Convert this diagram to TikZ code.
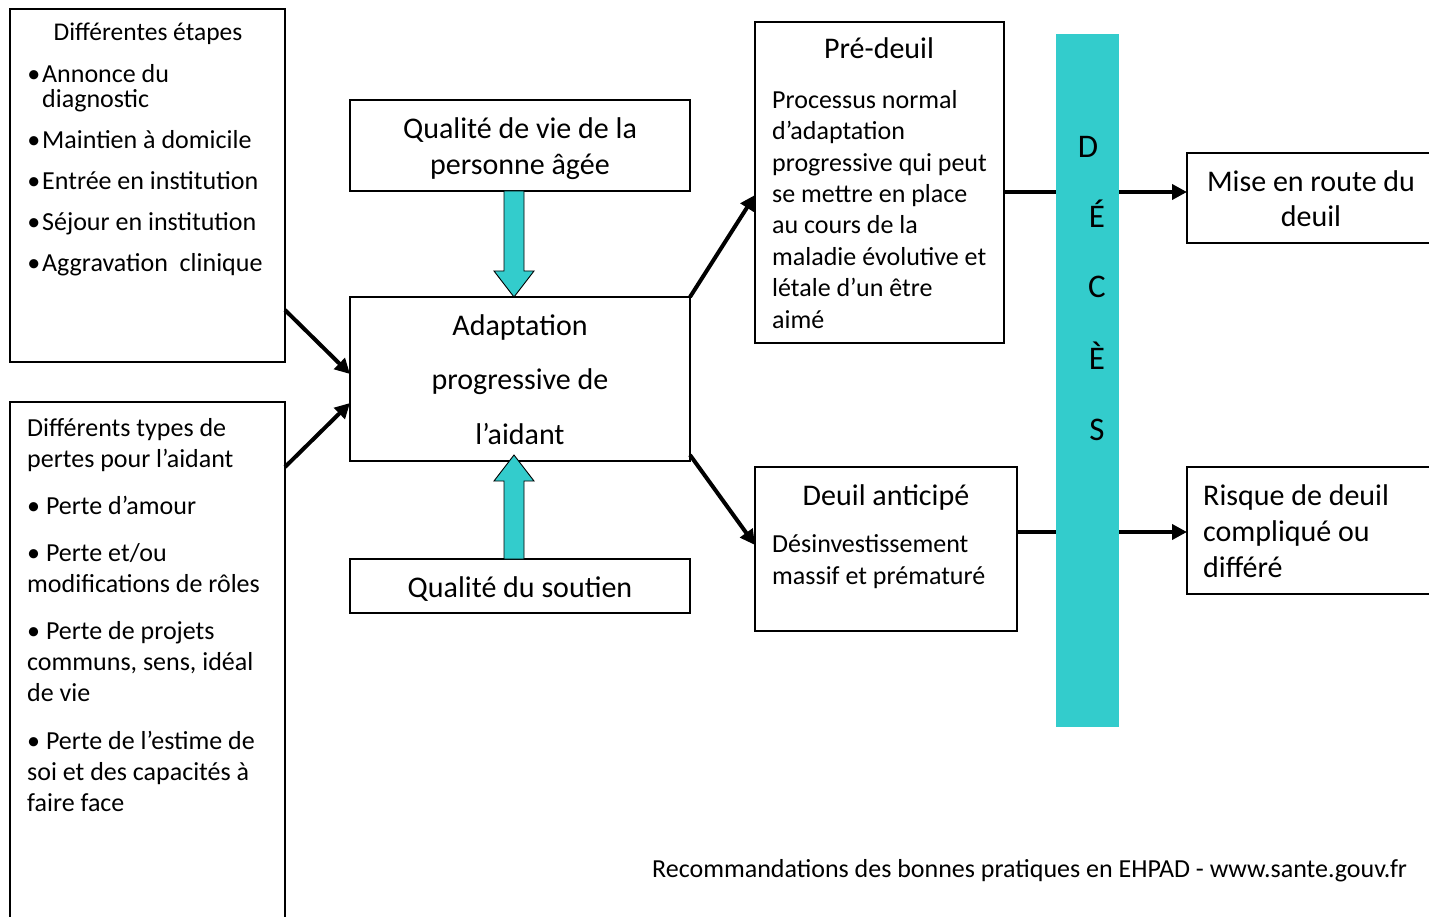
\documentclass[tikz,border=0pt]{standalone}
\usepackage{fontspec}
\setmainfont{Carlito}
\usetikzlibrary{arrows.meta}
\definecolor{teal33}{RGB}{51,204,204}
\begin{document}
\begin{tikzpicture}[x=1pt,y=-1pt,
  box/.style={draw=black, line width=1.4pt, inner sep=0pt, outer sep=0pt, anchor=north west},
  small/.style={inner sep=0pt, anchor=base west, align=left, font=\fontsize{26}{31.2}\selectfont},
  big/.style={inner sep=0pt, anchor=base, align=center, font=\fontsize{30}{36}\selectfont},
  letter/.style={inner sep=0pt, anchor=base, font=\fontsize{33}{36}\selectfont},
  conn/.style={line width=4pt},
  arr/.style={conn, -{Triangle[length=15pt,width=15pt]}},
  blockarrow/.style={draw=black, line width=0.9pt, fill=teal33, line join=miter}]
\useasboundingbox (0,0) rectangle (1429,917);
\clip (0,0) rectangle (1429,917);
\fill[white] (0,0) rectangle (1429,917);

% boxes
\node[box, minimum width=275pt, minimum height=353pt] (etapes) at (10,9) {};
\node[box, minimum width=275pt, minimum height=540pt] (pertes) at (10,402) {};
\node[box, minimum width=340pt, minimum height=91pt] (qvie) at (350,100) {};
\node[box, minimum width=340pt, minimum height=164pt] (adapt) at (350,297) {};
\node[box, minimum width=340pt, minimum height=54pt] (soutien) at (350,559) {};
\node[box, minimum width=249pt, minimum height=321pt] (pre) at (755,22) {};
\node[box, minimum width=262pt, minimum height=164pt] (anticipe) at (755,467) {};
\node[box, minimum width=242.5pt, minimum height=90pt] (mise) at (1187,153) {};
\node[box, minimum width=242.5pt, minimum height=127pt] (risque) at (1187,467) {};
\node[fill=teal33, inner sep=0pt, outer sep=0pt, anchor=north west, minimum width=63pt, minimum height=693pt] (bar) at (1056,34) {};

% texts (anchor base = baseline of the last line)
\node[inner sep=0pt, anchor=base, font=\fontsize{25.5}{28}\selectfont] (etapes-t) at (148,41) {Différentes étapes};
\node[small, font=\fontsize{26}{25}\selectfont] (etapes-l) at (42,272)
  {\llap{•\kern2pt}Annonce du\\diagnostic\\[16pt]
   \llap{•\kern2pt}Maintien à domicile\\[16pt]
   \llap{•\kern2pt}Entrée en institution\\[16pt]
   \llap{•\kern2pt}Séjour en institution\\[16pt]
   \llap{•\kern2pt}Aggravation\ \ clinique};
\node[small, font=\fontsize{26}{31}\selectfont] (pertes-l) at (27,811)
  {Différents types de\\pertes pour l’aidant\\[16pt]
   • Perte d’amour\\[16pt]
   • Perte et/ou\\modifications de rôles\\[16pt]
   • Perte de projets\\communs, sens, idéal\\de vie\\[17pt]
   • Perte de l’estime de\\soi et des capacités à\\faire face};
\node[big] (qvie-t) at (520,175) {Qualité de vie de la\\personne âgée};
\node[big, font=\fontsize{30}{54.5}\selectfont] (adapt-t) at (520,444) {Adaptation\\progressive de\\l’aidant};
\node[big] (soutien-t) at (520,597) {Qualité du soutien};
\node[big] (pre-t) at (879,59) {Pré-deuil};
\node[small, font=\fontsize{26}{31.4}\selectfont] (pre-l) at (772,328)
  {Processus normal\\d’adaptation\\progressive qui peut\\se mettre en place\\au cours de la\\maladie évolutive et\\létale d’un être\\aimé};
\node[big] (anticipe-t) at (886,505) {Deuil anticipé};
\node[small] (anticipe-l) at (772,584) {Désinvestissement\\massif et prématuré};
\node[big, font=\fontsize{30}{35}\selectfont] (mise-t) at (1311,227) {Mise en route du\\deuil};
\node[big, anchor=base west, align=left, font=\fontsize{30}{36}\selectfont] (risque-t) at (1203,577) {Risque de deuil\\compliqué ou\\différé};
\node[inner sep=0pt, anchor=base west, font=\fontsize{26}{30}\selectfont] (source) at (652,877) {Recommandations des bonnes pratiques en EHPAD - www.sante.gouv.fr};

\node[letter] (l1) at (1088,158) {D};
\node[letter] (l2) at (1097,228) {É};
\node[letter] (l3) at (1097,298) {C};
\node[letter] (l4) at (1097,369) {È};
\node[letter] (l5) at (1097,440) {S};

% connectors
\draw[arr] ([yshift=52pt]etapes.south east) -- ([yshift=5pt]adapt.west);
\draw[arr] ([yshift=-65pt]pertes.north east) -- ([yshift=-24pt]adapt.west);
\draw[arr] (adapt.north east) -- ([yshift=-12.5pt]pre.west);
\draw[arr] ([yshift=6pt]adapt.south east) -- ([yshift=4pt]anticipe.west);
\draw[conn] ([yshift=6pt]mise.west -| pre.east) -- ([yshift=6pt]mise.west -| bar.west);
\draw[arr] ([yshift=6pt]mise.west -| bar.east) -- ([yshift=6pt]mise.west);
\draw[conn] ([yshift=-1.5pt]risque.west -| anticipe.east) -- ([yshift=-1.5pt]risque.west -| bar.west);
\draw[arr] ([yshift=-1.5pt]risque.west -| bar.east) -- ([yshift=-1.5pt]risque.west);

% block arrows
\draw[blockarrow] ([xshift=-16pt]qvie.south) -- ++(0,80) -- ++(-10,0)
  -- ([xshift=-6pt]adapt.north) -- ++(20,-26) -- ++(-10,0) -- ++(0,-80) -- cycle;
\draw[blockarrow] ([xshift=-16pt]soutien.north) -- ++(0,-78) -- ++(-10,0)
  -- ([xshift=-6pt,yshift=6pt]adapt.south) -- ++(20,26) -- ++(-10,0) -- ++(0,78) -- cycle;
\end{tikzpicture}
\end{document}
